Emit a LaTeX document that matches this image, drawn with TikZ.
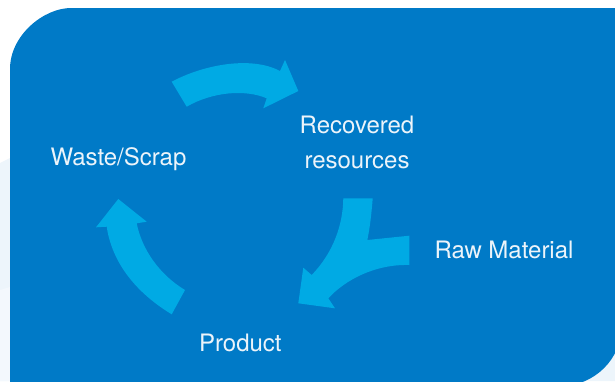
\documentclass[tikz,border=0pt]{standalone}
\usepackage{fontspec}
\setmainfont{TeX Gyre Heros}
\definecolor{boxblue}{RGB}{0,122,199}
\definecolor{cyclecyan}{RGB}{0,170,228}
\definecolor{paleback}{RGB}{237,245,251}
\definecolor{paleback2}{RGB}{243,248,253}
\definecolor{labelwhite}{RGB}{236,244,250}
\tikzset{
  cyclearrow/.style={fill=cyclecyan, draw=none},
  steplabel/.style={text=labelwhite, anchor=base, align=center, inner sep=0pt,
    font=\fontsize{24}{35}\selectfont}
}
\begin{document}
\begin{tikzpicture}[x=1pt,y=-1pt]
  \useasboundingbox (0,0) rectangle (615,381);
  \clip (0,0) rectangle (615,381);
  % page background
  \fill[white] (0,0) rectangle (615,381);
  \fill[paleback] (0,163) -- (40,143) -- (615,143) -- (615,381) -- (0,381) -- cycle;
  \fill[paleback2] (0,290) -- (10,287) -- (10,381) -- (0,381) -- cycle;
  % blue panel with two rounded corners
  \fill[boxblue] (10,386) -- (10,69) .. controls (10,35.3) and (43.7,8) .. (71,8)
    -- (622,8) -- (622,325) .. controls (622,358.7) and (594.3,386) .. (561,386) -- cycle;

  % Waste/Scrap -> Recovered resources
  \fill[cyclearrow] (171.7,81.7) .. controls (205,64) and (252,56) .. (280,71)
    -- (285,60) -- (298.3,91) -- (263.3,108.3) -- (266.7,98.3)
    .. controls (245,89) and (212,92) .. (186.7,106.7) -- cycle;

  % Recovered resources + Raw Material -> Product
  \fill[cyclearrow] (343.3,198.3) -- (372.7,198.3)
    .. controls (371,220) and (369,232) .. (367.3,240)
    -- (409.3,235.7) -- (409.3,265)
    .. controls (375,264) and (345,280) .. (328.3,298.3)
    -- (335,308.3) -- (298.3,303.3) -- (303.3,267.7) -- (311.7,275)
    .. controls (333,253) and (343,225) .. (343.3,198.3) -- cycle;

  % Product -> Waste/Scrap
  \fill[cyclearrow] (118.3,199) -- (146.7,221.7) -- (136.7,223.3)
    .. controls (142,250) and (160,275) .. (185,290)
    -- (171.7,314.3)
    .. controls (135,292) and (112,262) .. (106.7,226.7)
    -- (96,227.3) -- cycle;

  % labels (multi-line node sits on its last baseline)
  \node[steplabel] (waste) at (118.5,165) {Waste/Scrap};
  \node[steplabel] (recovered) at (357,168.3) {Recovered\\resources};
  \node[steplabel] (raw) at (504,258) {Raw Material};
  \node[steplabel] (product) at (240.3,351) {Product};
\end{tikzpicture}
\end{document}
